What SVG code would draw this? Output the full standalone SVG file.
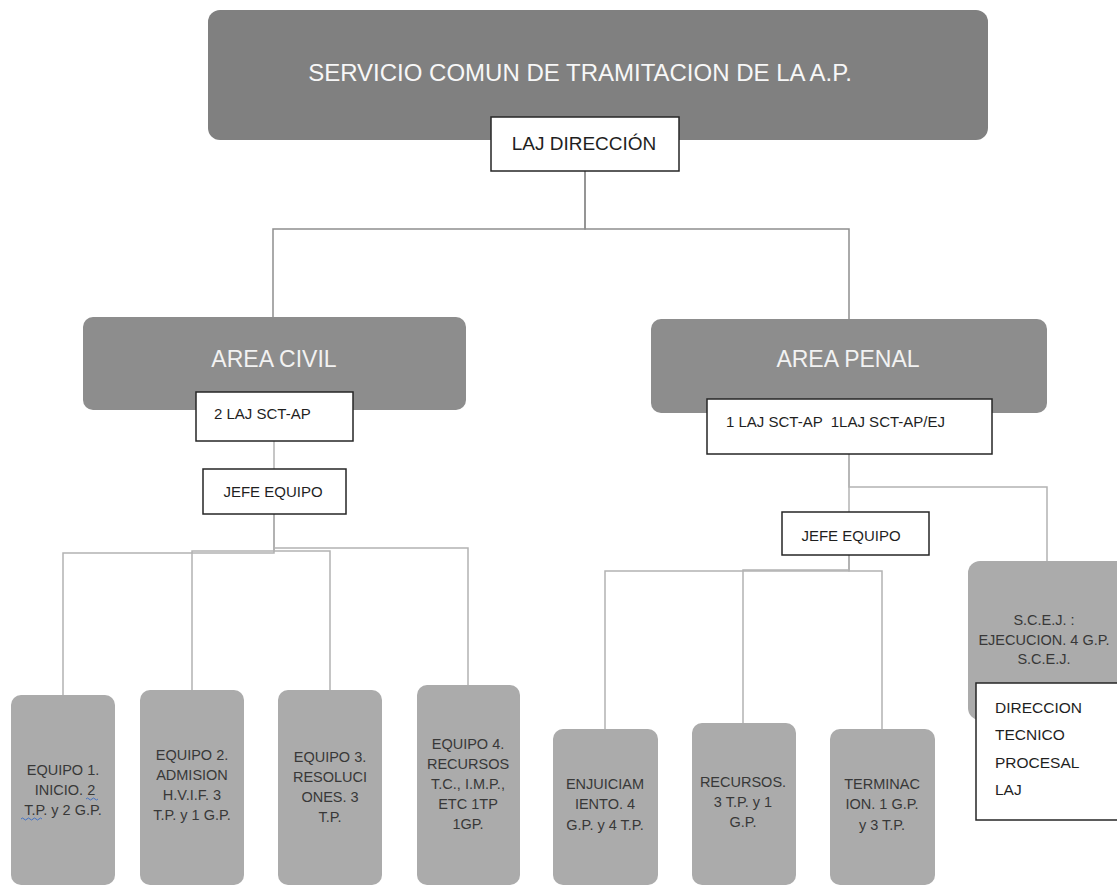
<svg xmlns="http://www.w3.org/2000/svg" width="1117" height="886" viewBox="0 0 1117 886">
<style>
.bg{fill:#ffffff}
.dark{fill:#808080}
.area{fill:#8d8d8d}
.leaf{fill:#ababab}
.wbox{fill:#ffffff;stroke:#262626;stroke-width:1.5}
.conn{fill:none;stroke:#b3b3b3;stroke-width:1.5}
.connd{fill:none;stroke:#8f8f8f;stroke-width:1.5}
text{font-family:"Liberation Sans",Arial,sans-serif}
.ttl{font-size:24px;fill:#f7f7f7;text-anchor:middle}
.atl{font-size:23px;fill:#f2f2f2;text-anchor:middle}
.lbl{font-size:15px;fill:#1f1f1f}
.lblc{font-size:15px;fill:#1f1f1f;text-anchor:middle}
.lt{font-size:14.5px;fill:#383838;text-anchor:middle}
.sq{fill:none;stroke:#4472c4;stroke-width:1}
</style>
<rect class="bg" x="0" y="0" width="1117" height="886"/>

<g id="connectors">
<path class="connd" d="M585,171 V229 H273 V317"/>
<path class="connd" d="M585,171 V229 H849 V319"/>
<path class="conn" d="M274,441 V469"/>
<path class="conn" d="M274,514 V553 H63 V695"/>
<path class="conn" d="M274,514 V551 H192 V690"/>
<path class="conn" d="M274,514 V551 H330 V690"/>
<path class="conn" d="M274,514 V548 H468 V685"/>
<path class="conn" d="M849,454 V512"/>
<path class="conn" d="M849,454 V487 H1047 V561"/>
<path class="conn" d="M849,555 V571 H605 V729"/>
<path class="conn" d="M849,555 V570 H743 V723"/>
<path class="conn" d="M849,555 V571 H882 V729"/>
</g>

<g id="servicio">
<rect class="dark" x="208" y="10" width="780" height="130" rx="12"/>
<text class="ttl" x="580" y="81">SERVICIO COMUN DE TRAMITACION DE LA A.P.</text>
</g>
<g id="laj-direccion">
<rect class="wbox" x="491" y="117" width="188" height="54"/>
<text class="lblc" x="584" y="150" style="font-size:19px">LAJ DIRECCIÓN</text>
</g>

<g id="area-civil">
<rect class="area" x="83" y="317" width="383" height="93" rx="10"/>
<text class="atl" x="274" y="367">AREA CIVIL</text>
</g>
<g id="laj-civil">
<rect class="wbox" x="196" y="392" width="157" height="49"/>
<text class="lbl" x="214" y="419">2 LAJ SCT-AP</text>
</g>
<g id="jefe-civil">
<rect class="wbox" x="203" y="469" width="143" height="45"/>
<text class="lblc" x="273" y="497">JEFE EQUIPO</text>
</g>

<g id="equipo1">
<rect class="leaf" x="11" y="695" width="104" height="190" rx="10"/>
<text class="lt" x="63" y="775">EQUIPO 1.</text>
<text class="lt" x="65" y="795">INICIO. 2</text>
<text class="lt" x="63" y="815">T.P. y 2 G.P.</text>
<path class="sq" d="M86,799 q1.5,-2 3,0 t3,0 t3,0 t3,0"/>
<path class="sq" d="M21,819 q1.5,-2 3,0 t3,0 t3,0 t3,0 t3,0 t3,0 t3,0"/>
</g>
<g id="equipo2">
<rect class="leaf" x="140" y="690" width="104" height="195" rx="10"/>
<text class="lt" x="192" y="760">EQUIPO 2.</text>
<text class="lt" x="192" y="780">ADMISION</text>
<text class="lt" x="192" y="800">H.V.I.F. 3</text>
<text class="lt" x="192" y="820">T.P. y 1 G.P.</text>
</g>
<g id="equipo3">
<rect class="leaf" x="278" y="690" width="104" height="195" rx="10"/>
<text class="lt" x="330" y="762">EQUIPO 3.</text>
<text class="lt" x="330" y="782">RESOLUCI</text>
<text class="lt" x="330" y="802">ONES. 3</text>
<text class="lt" x="330" y="822">T.P.</text>
</g>
<g id="equipo4">
<rect class="leaf" x="417" y="685" width="103" height="200" rx="10"/>
<text class="lt" x="468" y="749">EQUIPO 4.</text>
<text class="lt" x="468" y="769">RECURSOS</text>
<text class="lt" x="468" y="789">T.C., I.M.P.,</text>
<text class="lt" x="468" y="809">ETC 1TP</text>
<text class="lt" x="468" y="829">1GP.</text>
</g>

<g id="area-penal">
<rect class="area" x="651" y="319" width="396" height="94" rx="10"/>
<text class="atl" x="848" y="367">AREA PENAL</text>
</g>
<g id="laj-penal">
<rect class="wbox" x="707" y="399" width="285" height="55"/>
<text class="lbl" x="726" y="427" xml:space="preserve">1 LAJ SCT-AP  1LAJ SCT-AP/EJ</text>
</g>
<g id="jefe-penal">
<rect class="wbox" x="782" y="512" width="147" height="43"/>
<text class="lblc" x="851" y="541">JEFE EQUIPO</text>
</g>

<g id="enjuiciamiento">
<rect class="leaf" x="553" y="729" width="105" height="156" rx="10"/>
<text class="lt" x="605" y="789">ENJUICIAM</text>
<text class="lt" x="605" y="809">IENTO. 4</text>
<text class="lt" x="605" y="830">G.P. y 4 T.P.</text>
</g>
<g id="recursos">
<rect class="leaf" x="692" y="723" width="104" height="162" rx="10"/>
<text class="lt" x="743" y="787">RECURSOS.</text>
<text class="lt" x="743" y="807">3 T.P. y 1</text>
<text class="lt" x="743" y="827">G.P.</text>
</g>
<g id="terminacion">
<rect class="leaf" x="830" y="729" width="105" height="156" rx="10"/>
<text class="lt" x="882" y="789">TERMINAC</text>
<text class="lt" x="882" y="809">ION. 1 G.P.</text>
<text class="lt" x="882" y="830">y 3 T.P.</text>
</g>

<g id="scej">
<rect class="leaf" x="968" y="561" width="165" height="159" rx="12"/>
<text class="lt" x="1044" y="625">S.C.E.J. :</text>
<text class="lt" x="1044" y="645">EJECUCION. 4 G.P.</text>
<text class="lt" x="1044" y="664">S.C.E.J.</text>
</g>
<g id="direccion-tecnico">
<rect class="wbox" x="976" y="683" width="150" height="137"/>
<text class="lbl" x="995" y="713" style="font-size:15.5px">DIRECCION</text>
<text class="lbl" x="995" y="740" style="font-size:15.5px">TECNICO</text>
<text class="lbl" x="995" y="768" style="font-size:15.5px">PROCESAL</text>
<text class="lbl" x="995" y="795" style="font-size:15.5px">LAJ</text>
</g>
</svg>
